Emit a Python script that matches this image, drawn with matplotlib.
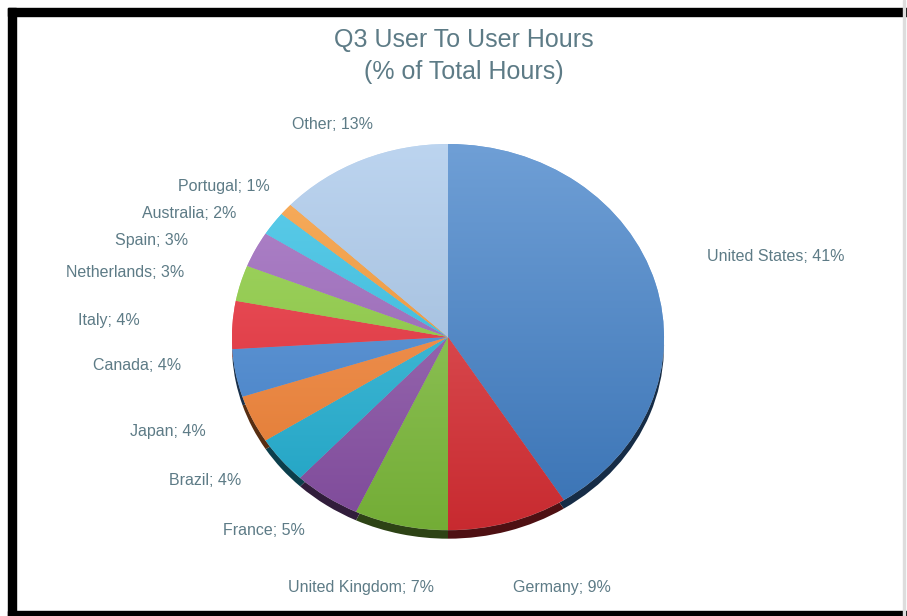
import numpy as np
import matplotlib.pyplot as plt
from matplotlib.colors import to_rgb
from matplotlib.patches import Rectangle

# datos
countries = ['United States', 'Germany', 'United Kingdom', 'France', 'Brazil', 'Japan',
             'Canada', 'Italy', 'Netherlands', 'Spain', 'Australia', 'Portugal', 'Other']
shares = [41, 9, 7, 5, 4, 4, 4, 4, 3, 3, 2, 1, 13]
colors = ['#3f7fc8', '#de2f35', '#80c03c', '#8c52aa', '#22b4d8', '#f88434',
          '#4588d6', '#ec2a36', '#8acd3a', '#9a62bc', '#2ec0e6', '#f8962e', '#a6c6ea']

# escala radial de cada etiqueta (x, y), solo para el acomodo
label_scale = [(1.25, 1.5), (1.08, 1.35), (0.3, 1.33), (1.18, 1.21), (1.24, 1.17), (1.24, 1.15),
               (1.26, 0.8), (1.43, 1.4), (1.27, 1.19), (1.35, 1.1), (1.21, 1.09), (1.1, 1.18),
               (0.87, 1.2)]

W, H = 907, 616
cx, cy, rx, ry = 448, 337, 216, 193   # centro y radios del pastel en pixeles
txt_color = '#5d7b86'

fig = plt.figure(figsize=(W / 100, H / 100), dpi=100)
ax = fig.add_axes([0, 0, 1, 1])

# borde inferior oscuro (efecto 3D)
dark = [tuple(c * 0.35 for c in to_rgb(col)) for col in colors]
ax.pie(shares, colors=dark, startangle=90, counterclock=False, center=(0, -0.045),
       wedgeprops=dict(linewidth=0))

wedges, _ = ax.pie(shares, colors=colors, startangle=90, counterclock=False,
                   wedgeprops=dict(linewidth=0.4, edgecolor='#ffffff80'))

# degradado vertical dentro de cada rebanada
t = np.linspace(0, 1, 256)[:, None, None]
for w, col in zip(wedges, colors):
    base = np.array(to_rgb(col))
    top = base + (1 - base) * 0.25
    bottom = base * 0.9
    img = top * (1 - t) + bottom * t
    im = ax.imshow(img, extent=(-1, 1, -1, 1), aspect='auto', interpolation='bilinear',
                   zorder=w.get_zorder() + 0.1)
    im.set_clip_path(w)

for w, name, v, (sx, sy) in zip(wedges, countries, shares, label_scale):
    ang = np.deg2rad((w.theta1 + w.theta2) / 2)
    x, y = sx * np.cos(ang), sy * np.sin(ang)
    ha = 'left' if np.cos(ang) > 0 else 'right'
    ax.text(x, y, f'{name}; {v}%', ha=ha, va='center', color=txt_color,
            fontsize=11.5, family='Liberation Sans')

ax.set_aspect('auto')
ax.set_xlim(-cx / rx, (W - cx) / rx)
ax.set_ylim(-(H - cy) / ry, cy / ry)
ax.axis('off')

fig.text(464 / W, 1 - 56 / H, 'Q3 User To User Hours\n(% of Total Hours)', ha='center',
         va='center', color=txt_color, fontsize=18, family='Liberation Sans',
         linespacing=1.45)

# marco negro
fig.patches.append(Rectangle((8 / W, 1 - 16 / H), 1, 8 / H, color='black',
                             transform=fig.transFigure, figure=fig))
fig.patches.append(Rectangle((8 / W, 0), 8 / W, 1 - 8 / H, color='black',
                             transform=fig.transFigure, figure=fig))
fig.patches.append(Rectangle((8 / W, 0), 1, 5 / H, color='black',
                             transform=fig.transFigure, figure=fig))
fig.patches.append(Rectangle((903 / W, 0), 2 / W, 1, color='#dddddd',
                             transform=fig.transFigure, figure=fig))

plt.savefig('out.png', dpi=100)
